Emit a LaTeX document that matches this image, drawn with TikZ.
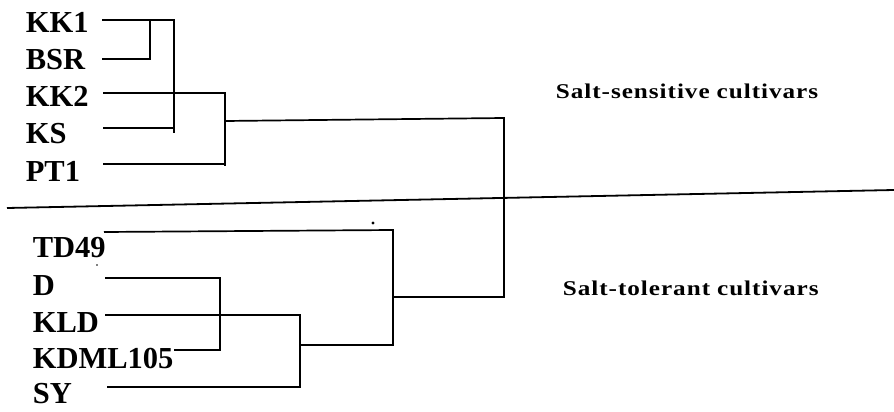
\documentclass[tikz,border=0pt]{standalone}
\usepackage{graphicx}
\usepackage{fontspec}
\setmainfont{Liberation Serif}
% set a word with a fixed extra gap after every character
\newlength\tracking
\setlength\tracking{0.8pt}
\def\spreadword#1{\spreadstep#1\spreadstop}
\def\spreadstop{\spreadstop}
\def\spreadstep#1{\ifx#1\spreadstop\else#1\kern\tracking\expandafter\spreadstep\fi}
\newcommand\widecaption[2]{\scalebox{1.2}[1]{\spreadword{#1}\hspace{5pt}\spreadword{#2}}}
\begin{document}
\begin{tikzpicture}[x=1pt,y=-1pt,line width=1.7pt,
  leaf/.style={anchor=base west,inner sep=0pt,font=\fontsize{30.5}{32}\selectfont\bfseries},
  group/.style={anchor=base west,inner sep=0pt,font=\fontsize{21}{23}\selectfont\bfseries},
  branch/.style={draw=black,line width=1.7pt}]
\useasboundingbox (0,0) rectangle (894,412);

% cultivar names
\node[leaf] (kk1) at (25,33) {KK1};
\node[leaf] (bsr) at (25,70) {BSR};
\node[leaf] (kk2) at (25,106) {KK2};
\node[leaf] (ks)  at (25,143) {KS};
\node[leaf] (pt1) at (25,181) {PT1};
\node[leaf] (td49) at (32,257) {TD49};
\node[leaf] (d)   at (32,295) {D};
\node[leaf] (kld) at (32,332) {KLD};
\node[leaf] (kdml) at (32,368) {KDML105};
\node[leaf] (sy)  at (32,403) {SY};

% group captions
\node[group] (sens) at (555,98) {\widecaption{Salt-sensitive}{cultivars}};
\node[group] (tol)  at (562,295) {\widecaption{Salt-tolerant}{cultivars}};

% leaf ends
\coordinate (l1) at (102,20);
\coordinate (l2) at (102,59);
\coordinate (l3) at (103,93);
\coordinate (l4) at (103,128);
\coordinate (l5) at (103,164);
\coordinate (m1) at (104,232);
\coordinate (m2) at (105,278);
\coordinate (m3) at (105,315);
\coordinate (m4) at (174,350);
\coordinate (m5) at (107,387);

% junctions, sensitive group
\coordinate (j1) at (150,59);
\coordinate (j2) at (174,20);
\coordinate (j2b) at (174,133);
\coordinate (j3) at (225,93);
\coordinate (j3b) at (225,166);
\coordinate (r1) at (225,121);
\coordinate (rt) at (504,118);
\coordinate (rb) at (504,297);
\coordinate (rl) at (393,297);

% junctions, tolerant group
\coordinate (t1) at (393,230);
\coordinate (t1b) at (393,345);
\coordinate (t2) at (300,345);
\coordinate (d1) at (220,278);
\coordinate (d1b) at (220,350);
\coordinate (k1) at (300,315);
\coordinate (k1b) at (300,388);

% dividing line
\coordinate (hl) at (7,208);
\coordinate (hr) at (894,190);

\draw[branch] (l1) -- (j2) -- (j2b);
\draw[branch] (l2) -- (j1) -- (j1 |- l1);
\draw[branch] (l4) -- (l4 -| j2b);
\draw[branch] (l3) -- (j3) -- (j3b);
\draw[branch] (l5) -- (l5 -| j3);
\draw[branch] (r1) -- (rt) -- (rb) -- (rl);

\draw[branch] (m1) -- (t1) -- (t1b) -- (t2);
\draw[branch] (m2) -- (d1) -- (d1b) -- (m4);
\draw[branch] (m3) -- (k1) -- (k1b);
\draw[branch] (m5) -- (m5 -| k1);

\draw[line width=1.8pt] (hl) -- (hr);

% specks
\fill (373,223) circle (1.6pt);
\fill (97,265) circle (0.9pt);
\end{tikzpicture}
\end{document}
